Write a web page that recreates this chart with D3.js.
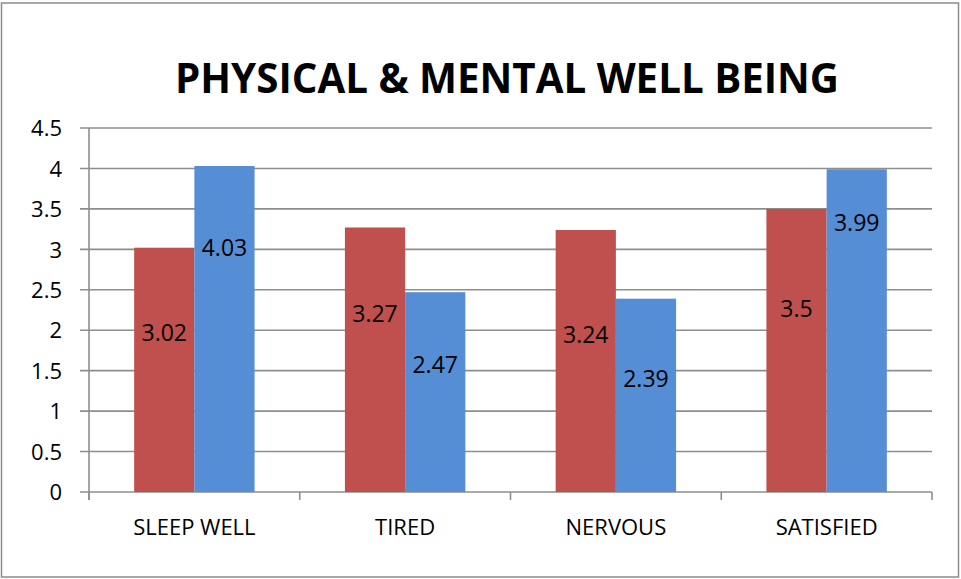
<!DOCTYPE html>
<html>
<head>
<meta charset="utf-8">
<script src="https://cdn.jsdelivr.net/npm/d3@7/dist/d3.min.js"></script>
<style>
  body { margin: 0; background: #fff; }
  text { font-family: "Open Sans", "Noto Sans", sans-serif; fill: #000; }
</style>
</head>
<body>
<script>
// chart data
var categories = ["SLEEP WELL", "TIRED", "NERVOUS", "SATISFIED"];
var seriesA = [3.02, 3.27, 3.24, 3.5];   // red bars
var seriesB = [4.03, 2.47, 2.39, 3.99];  // blue bars
// where the value labels sit, in axis units (they were placed by hand in the original)
var labelA = [1.97, 2.21, 1.95, 2.26];
var labelB = [3.02, 1.57, 1.40, 3.33];
var yTicks = [0, 0.5, 1, 1.5, 2, 2.5, 3, 3.5, 4, 4.5];
var chartTitle = "PHYSICAL & MENTAL WELL BEING";

var W = 961, H = 579;
var margin = {top: 128, right: 28, bottom: 87, left: 89};
var width = 932 - margin.left;
var height = 492 - margin.top;

var svg = d3.select("body").append("svg")
    .attr("width", W)
    .attr("height", H);

// outer chart border
svg.append("rect")
    .attr("x", 1.5).attr("y", 3)
    .attr("width", 957).attr("height", 574)
    .attr("fill", "#fff")
    .attr("stroke", "#8c8c8c")
    .attr("stroke-width", 1.5);

svg.append("text")
    .attr("x", 507).attr("y", 93)
    .attr("text-anchor", "middle")
    .attr("font-size", 42)
    .attr("font-weight", "bold")
    .attr("textLength", 664)
    .attr("lengthAdjust", "spacingAndGlyphs")
    .text(chartTitle);

var g = svg.append("g")
    .attr("transform", "translate(" + margin.left + "," + margin.top + ")");

var x0 = d3.scaleBand().domain(categories).range([0, width]).paddingInner(0).paddingOuter(0);
var x1 = d3.scaleBand().domain(["a", "b"]).range([0, x0.bandwidth()]).paddingOuter(0.75).paddingInner(0);
var y = d3.scaleLinear().domain([0, 4.5]).range([height, 0]);

// gridlines
g.selectAll(".grid").data(yTicks).enter().append("line")
    .attr("class", "grid")
    .attr("x1", -9).attr("x2", width)
    .attr("y1", function(d){ return y(d); })
    .attr("y2", function(d){ return y(d); })
    .attr("stroke", "#8e8e8e")
    .attr("stroke-width", 1.6);

// y axis
var yAxis = d3.axisLeft(y).tickValues(yTicks).tickSize(0).tickPadding(27)
    .tickFormat(function(d){ return String(d); });
var ya = g.append("g").call(yAxis);
ya.select(".domain").remove();
ya.selectAll("text").attr("font-size", 22).attr("dy", "0.35em")
    .style("font-family", "'Open Sans', sans-serif");

g.append("line")
    .attr("x1", 0).attr("x2", 0)
    .attr("y1", 0).attr("y2", height + 8)
    .attr("stroke", "#8e8e8e").attr("stroke-width", 1.6);

// category boundary ticks
var bounds = categories.map(function(c){ return x0(c); }).concat([width]);
g.selectAll(".ctick").data(bounds).enter().append("line")
    .attr("x1", function(d){ return d; }).attr("x2", function(d){ return d; })
    .attr("y1", height).attr("y2", height + 8)
    .attr("stroke", "#8e8e8e").attr("stroke-width", 1.6);

// bars
var groups = g.selectAll(".grp").data(categories).enter().append("g")
    .attr("transform", function(d){ return "translate(" + x0(d) + ",0)"; });

groups.append("rect")
    .attr("x", x1("a"))
    .attr("width", x1.bandwidth())
    .attr("y", function(d, i){ return y(seriesA[i]); })
    .attr("height", function(d, i){ return height - y(seriesA[i]); })
    .attr("fill", "#c0504d");

groups.append("rect")
    .attr("x", x1("b"))
    .attr("width", x1.bandwidth())
    .attr("y", function(d, i){ return y(seriesB[i]); })
    .attr("height", function(d, i){ return height - y(seriesB[i]); })
    .attr("fill", "#558ed5");

groups.append("text")
    .attr("x", x1("a") + x1.bandwidth() / 2)
    .attr("y", function(d, i){ return y(labelA[i]); })
    .attr("dy", "0.36em")
    .attr("text-anchor", "middle")
    .attr("font-size", 23)
    .text(function(d, i){ return seriesA[i]; });

groups.append("text")
    .attr("x", x1("b") + x1.bandwidth() / 2)
    .attr("y", function(d, i){ return y(labelB[i]); })
    .attr("dy", "0.36em")
    .attr("text-anchor", "middle")
    .attr("font-size", 23)
    .text(function(d, i){ return seriesB[i]; });

// category labels
g.selectAll(".clabel").data(categories).enter().append("text")
    .attr("x", function(d){ return x0(d) + x0.bandwidth() / 2; })
    .attr("y", height + 35)
    .attr("dy", "0.35em")
    .attr("text-anchor", "middle")
    .attr("font-size", 22)
    .text(function(d){ return d; });
</script>
</body>
</html>
